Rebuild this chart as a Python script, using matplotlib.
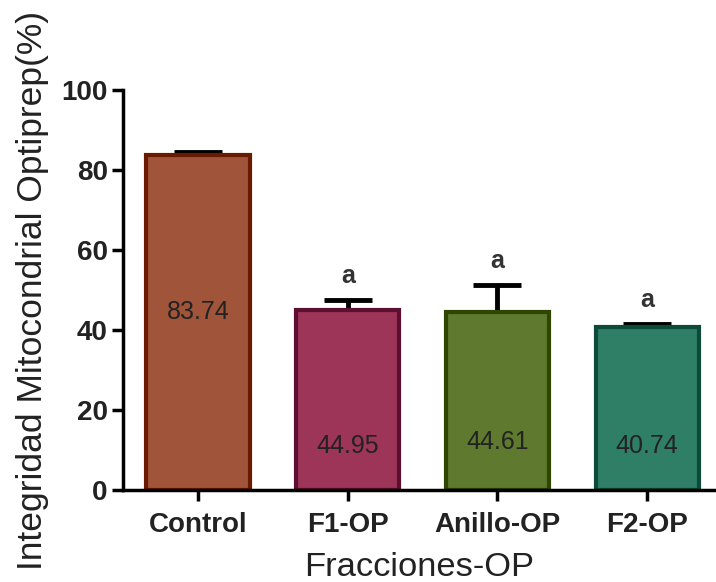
import matplotlib.pyplot as plt
import numpy as np

plt.rcParams['font.family'] = ['Liberation Sans', 'DejaVu Sans']

categories = ["Control", "F1-OP", "Anillo-OP", "F2-OP"]
means = [83.74, 44.95, 44.61, 40.74]
errors = [0.8, 2.5, 6.6, 0.8]
letters = ["", "a", "a", "a"]
label_y = [44.5, 11, 12, 11]

face_colors = ["#A0553A", "#9C3558", "#5F7A2E", "#2F7E66"]
edge_colors = ["#6A1A00", "#5C0F30", "#2E4600", "#0E4A38"]

fig = plt.figure(figsize=(7.16, 5.82), dpi=100)
ax = fig.add_axes([0.172, 0.158, 0.826, 0.687])

x = np.arange(len(categories))
ax.bar(x, means, width=0.69, color=face_colors, edgecolor=edge_colors, linewidth=3, zorder=2)
ax.errorbar(x, means, yerr=[np.zeros(len(errors)), errors], fmt="none", ecolor="black",
            elinewidth=3.5, capsize=17, capthick=3.5, zorder=1)

for i in range(len(categories)):
    ax.text(x[i], label_y[i], f"{means[i]:.2f}", ha="center", va="center", fontsize=18, color="#222222")
    if letters[i]:
        ax.text(x[i], means[i] + errors[i] + 3, letters[i], ha="center", va="bottom",
                fontsize=18, fontweight="bold", color="#333333")

ax.set_xlim(-0.5, 3.45)
ax.set_ylim(0, 100)
ax.set_yticks([0, 20, 40, 60, 80, 100])
ax.set_xticks(x)
ax.set_xticklabels(categories)
for lab in ax.get_xticklabels() + ax.get_yticklabels():
    lab.set_fontweight("bold")
    lab.set_fontsize(20)
    lab.set_color("#222222")

ax.spines["top"].set_visible(False)
ax.spines["right"].set_visible(False)
ax.spines["left"].set_linewidth(2.5)
ax.spines["bottom"].set_linewidth(2.5)
ax.tick_params(direction="out", length=8, width=2.5)
ax.tick_params(axis="y", pad=3)
ax.tick_params(axis="x", pad=8)

ax.set_xlabel("Fracciones-OP", fontsize=24.8, color="#222222", labelpad=10)
ax.set_ylabel("Integridad Mitocondrial Optiprep(%)", fontsize=25.5, color="#222222")
ax.yaxis.set_label_coords(-0.125, 0.5)

plt.savefig("out.png", dpi=100)
